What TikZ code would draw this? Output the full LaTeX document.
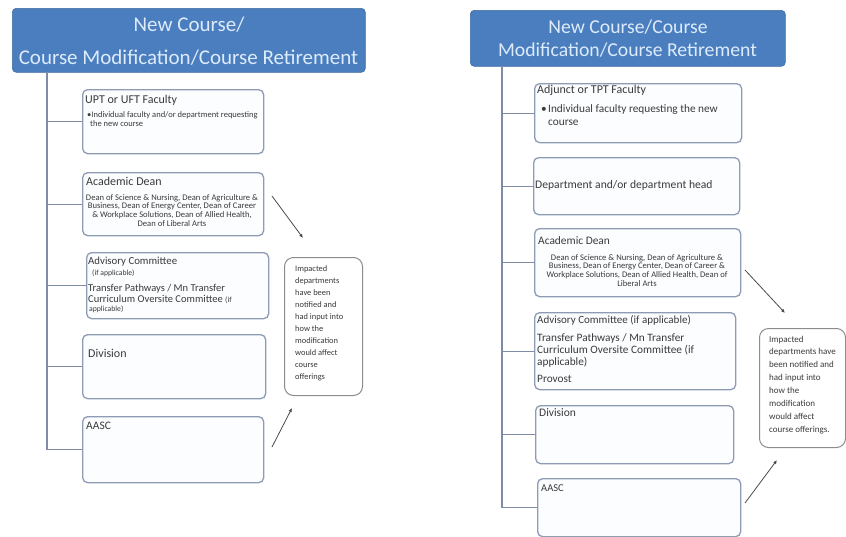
\documentclass[tikz,border=0pt]{standalone}
\usepackage{fontspec}
\setmainfont{Carlito}
\usetikzlibrary{arrows.meta}
\definecolor{titleblue}{HTML}{4A7EBF}
\definecolor{titletext}{HTML}{DDEBFA}
\definecolor{boxline}{HTML}{8E9BB5}
\definecolor{boxfill}{HTML}{FCFDFF}
\definecolor{conn}{HTML}{7F8CA8}
\definecolor{txt}{HTML}{3A3A3A}
\definecolor{notel}{HTML}{8C8C8C}
\tikzset{
 titlebox/.style={fill=titleblue, draw=titleblue!85!black, rounded corners=4pt, line width=0.6pt, inner sep=0, anchor=north west},
 flowbox/.style={draw=boxline, fill=boxfill, rounded corners=5pt, line width=1.3pt, inner sep=0, anchor=north west},
 notebox/.style={draw=notel, fill=white, rounded corners=9pt, line width=1pt, inner sep=0, anchor=north west},
 link/.style={draw=conn, line width=1.3pt},
 pointer/.style={draw=black!70, line width=0.8pt, -{Latex[length=4pt,width=3.5pt]}},
 ttlA/.style={text=titletext, font=\fontsize{21}{24}\selectfont, inner sep=0, anchor=base},
 ttlB/.style={text=titletext, font=\fontsize{19.7}{22}\selectfont, inner sep=0, anchor=base},
 hd/.style={text=txt, font=\fontsize{12}{14}\selectfont, inner sep=0, anchor=base west},
 sm/.style={text=txt, font=\fontsize{8.5}{9}\selectfont, inner sep=0, anchor=base west},
 smc/.style={text=txt, font=\fontsize{8.6}{9}\selectfont, inner sep=0, anchor=base},
 tiny/.style={text=txt, font=\fontsize{7.7}{8}\selectfont, inner sep=0, anchor=base west},
 mid/.style={text=txt, font=\fontsize{11.3}{13}\selectfont, inner sep=0, anchor=base west},
 nt/.style={text=txt, font=\fontsize{8.4}{9}\selectfont, inner sep=0, anchor=base west},
 ntr/.style={text=txt, font=\fontsize{9}{10}\selectfont, inner sep=0, anchor=base west},
}
\begin{document}
\begin{tikzpicture}[x=1pt,y=-1pt]
\useasboundingbox[fill=white] (0,0) rectangle (846,536);

% ================= LEFT =================
\node[titlebox, minimum width=353pt, minimum height=64pt] (LT) at (12,8) {};
\node[ttlA] (LT1) at (189,31) {New Course/};
\node[ttlA] (LT2) at (188.5,64) {Course Modification/Course Retirement};

\coordinate (Ltop) at (47,72);
\node[flowbox, minimum width=181pt, minimum height=64pt] (L1) at (82,89) {};
\node[flowbox, minimum width=181pt, minimum height=63pt] (L2) at (82,172) {};
\node[flowbox, minimum width=182pt, minimum height=66pt] (L3) at (86,252) {};
\node[flowbox, minimum width=183pt, minimum height=64pt] (L4) at (82,334) {};
\node[flowbox, minimum width=181pt, minimum height=66pt] (L5) at (82,416) {};

\draw[link] (Ltop) |- (L5.west);
\draw[link] (Ltop) |- (L1.west);
\draw[link] (Ltop) |- (L2.west);
\draw[link] (Ltop) |- (L3.west);
\draw[link] (Ltop) |- (L4.west);

\node[hd] (L1a) at (85,103) {UPT or UFT Faculty};
\node[sm] (L1b) at (87,117.5) {\textbullet Individual faculty and/or department requesting};
\node[sm] (L1c) at (90,126.5) {the new course};

\node[hd] (L2a) at (86,185) {Academic Dean};
\node[smc] (L2b) at (172,200) {Dean of Science \& Nursing, Dean of Agriculture \&};
\node[smc] (L2c) at (172,208.5) {Business, Dean of Energy Center, Dean of Career};
\node[smc] (L2d) at (172,217) {\& Workplace Solutions, Dean of Allied Health,};
\node[smc] (L2e) at (172,226) {Dean of Liberal Arts};

\node[hd, font=\fontsize{10.8}{12}\selectfont] (L3a) at (88,264) {Advisory Committee};
\node[tiny] (L3b) at (92,275) {(if applicable)};
\node[mid, font=\fontsize{10.5}{12}\selectfont] (L3c) at (88,291) {Transfer Pathways / Mn Transfer};
\node[mid, font=\fontsize{10.5}{12}\selectfont] (L3d) at (88,302) {Curriculum Oversite Committee {\fontsize{7.7}{8}\selectfont (if}};
\node[tiny] (L3e) at (89,311) {applicable)};

\node[hd] (L4a) at (88,357) {Division};
\node[hd, font=\fontsize{11.5}{13}\selectfont] (L5a) at (86,429) {AASC};

\node[notebox, minimum width=78pt, minimum height=138pt] (LN) at (284,257) {};
\foreach \t [count=\i from 0] in {Impacted, departments, have been, notified and, had input into, how the, modification, would affect, course, offerings}
  \node[nt] (LNt\i) at (295,271+12*\i) {\t};

\coordinate (LA1s) at (272,196);
\coordinate (LA1e) at (303,238);
\coordinate (LA2s) at (272,447);
\coordinate (LA2e) at (292,408);
\draw[pointer] (LA1s) -- (LA1e);
\draw[pointer] (LA2s) -- (LA2e);

% ================= RIGHT =================
\node[titlebox, minimum width=315pt, minimum height=56pt] (RT) at (470,10) {};
\node[ttlB] (RT1) at (628,33) {New Course/Course};
\node[ttlB] (RT2) at (627.5,56) {Modification/Course Retirement};

\coordinate (Rtop) at (502,66);
\node[flowbox, minimum width=207pt, minimum height=59pt] (R1) at (534,83) {};
\node[flowbox, minimum width=206pt, minimum height=57pt] (R2) at (533,157) {};
\node[flowbox, minimum width=206pt, minimum height=68pt] (R3) at (534,228) {};
\node[flowbox, minimum width=201pt, minimum height=77pt] (R4) at (534,312) {};
\node[flowbox, minimum width=198pt, minimum height=58pt] (R5) at (535,405) {};
\node[flowbox, minimum width=203pt, minimum height=58pt] (R6) at (537,478) {};

\draw[link] (Rtop) |- (R6.west);
\draw[link] (Rtop) |- (R1.west);
\draw[link] (Rtop) |- (R2.west);
\draw[link] (Rtop) |- (R3.west);
\draw[link] (Rtop) |- (R4.west);
\draw[link] (Rtop) |- (R5.west);

\node[hd] (R1a) at (537,93) {Adjunct or TPT Faculty};
\node[mid] (R1b) at (541,112) {\textbullet};
\node[mid] (R1c) at (548,112) {Individual faculty requesting the new};
\node[mid] (R1d) at (548,125) {course};

\node[hd, font=\fontsize{11.6}{13}\selectfont] (R2a) at (535,188) {Department and/or department head};

\node[hd, font=\fontsize{11.4}{13}\selectfont] (R3a) at (538,244) {Academic Dean};
\node[smc] (R3b) at (637,260) {Dean of Science \& Nursing, Dean of Agriculture \&};
\node[smc] (R3c) at (637,268.5) {Business, Dean of Energy Center, Dean of Career \&};
\node[smc] (R3d) at (637,277.5) {Workplace Solutions, Dean of Allied Health, Dean of};
\node[smc] (R3e) at (637,286.5) {Liberal Arts};

\node[mid, font=\fontsize{11}{13}\selectfont] (R4a) at (537,323) {Advisory Committee (if applicable)};
\node[mid] (R4b) at (537,341) {Transfer Pathways / Mn Transfer};
\node[mid] (R4c) at (537,353) {Curriculum Oversite Committee (if};
\node[mid] (R4d) at (537,365) {applicable)};
\node[mid] (R4e) at (537,382) {Provost};

\node[hd, font=\fontsize{11.5}{13}\selectfont] (R5a) at (539,416) {Division};
\node[hd, font=\fontsize{10.5}{12}\selectfont] (R6a) at (541,491) {AASC};

\node[notebox, minimum width=86pt, minimum height=119pt] (RN) at (759,328) {};
\foreach \t [count=\i from 0] in {Impacted, departments have, been notified and, had input into, how the, modification, would affect, course offerings.}
  \node[ntr] (RNt\i) at (769,342+12.9*\i) {\t};

\coordinate (RA1s) at (745,270);
\coordinate (RA1e) at (785,313);
\coordinate (RA2s) at (745,503);
\coordinate (RA2e) at (777,460);
\draw[pointer] (RA1s) -- (RA1e);
\draw[pointer] (RA2s) -- (RA2e);
\end{tikzpicture}
\end{document}
